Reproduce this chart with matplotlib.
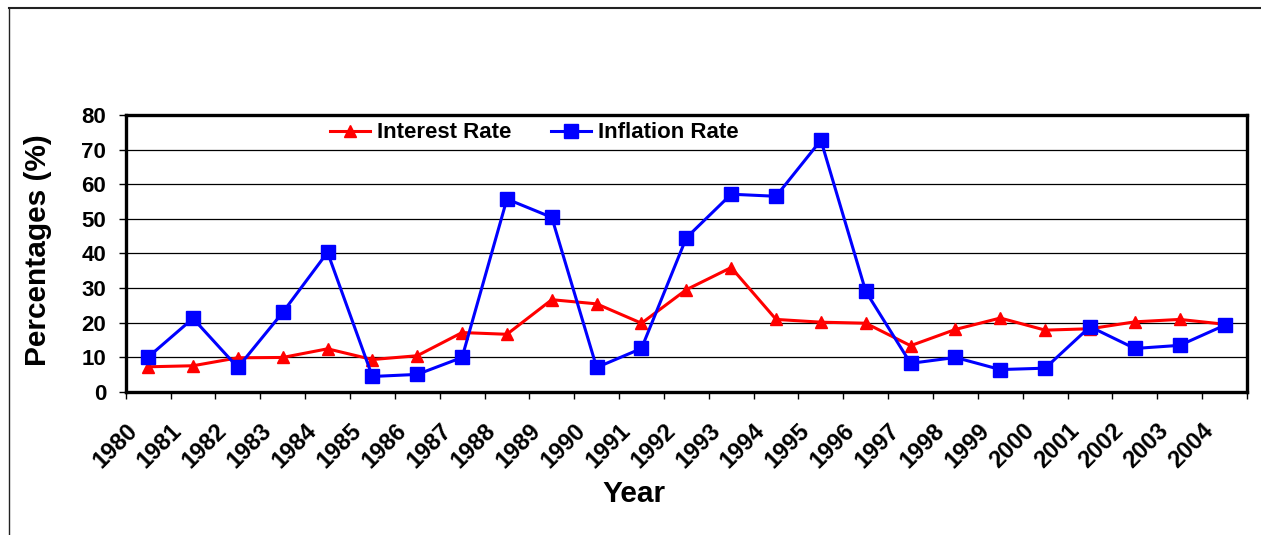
import matplotlib
matplotlib.use("Agg")
import matplotlib.pyplot as plt
import matplotlib.transforms as mtransforms
from matplotlib.lines import Line2D

years = [str(y) for y in range(1980, 2005)]
interest_rate = [7.2, 7.5, 9.8, 9.9, 12.4, 9.3, 10.4, 17.1, 16.6, 26.6, 25.4, 19.8,
                 29.5, 35.9, 20.9, 20.1, 19.8, 13.3, 18.0, 21.3, 17.8, 18.2, 20.2, 20.9, 19.5]
inflation_rate = [10.0, 21.2, 7.0, 22.9, 40.3, 4.4, 5.0, 9.9, 55.7, 50.4, 7.0, 12.5,
                  44.5, 57.1, 56.5, 72.7, 29.0, 8.2, 9.9, 6.4, 6.8, 18.8, 12.5, 13.4, 19.2]
series_names = ["Interest Rate", "Inflation Rate"]
y_ticks = [0, 10, 20, 30, 40, 50, 60, 70, 80]

W, H = 1261, 535
fig = plt.figure(figsize=(W / 100, H / 100), dpi=100)
plt.rcParams['font.family'] = ['Liberation Sans', 'DejaVu Sans']

ax = fig.add_axes([125.7 / W, 1 - 391.7 / H, (1247 - 125.7) / W, (391.7 - 115) / H])

x = list(range(len(years)))
ax.plot(x, interest_rate, color='#FF0000', lw=2.2, marker='^', markersize=8,
        label=series_names[0], zorder=3)
ax.plot(x, inflation_rate, color='#0000FF', lw=2.2, marker='s', markersize=9.5,
        label=series_names[1], zorder=4)

ax.set_xlim(-0.5, len(years) - 0.5)
ax.set_ylim(0, 80)
ax.set_yticks(y_ticks)
ax.set_yticklabels([str(v) for v in y_ticks], fontsize=16, fontweight='bold')
ax.yaxis.grid(True, color='black', lw=0.9)
ax.set_axisbelow(True)

ax.set_xticks([i - 0.5 for i in x] + [len(years) - 0.5])
ax.set_xticklabels([])

# category labels: rotated, anchored near the boundary tick like the original
base = mtransforms.blended_transform_factory(ax.transData, ax.transAxes)
offset = mtransforms.ScaledTranslation(16 / 100, -27 / 100, fig.dpi_scale_trans)
for i, yr in enumerate(years):
    ax.text(i - 0.5, 0, yr, transform=base + offset, rotation=45, ha='right', va='top',
            fontsize=17, fontweight='bold', clip_on=False)

ax.tick_params(axis='x', direction='out', length=5, width=1, colors='black')
ax.tick_params(axis='y', direction='out', length=5, width=1, pad=9, colors='black')
for s in ax.spines.values():
    s.set_linewidth(2.4)
    s.set_color('black')

leg = fig.legend(loc='center left', bbox_to_anchor=(330 / W, 1 - 133 / H),
                 ncol=2, frameon=False, prop={'size': 16, 'weight': 'bold'},
                 handlelength=1.8, handletextpad=0.3, columnspacing=1.8,
                 borderpad=0, borderaxespad=0)

fig.text(38 / W, 1 - 250 / H, 'Percentages (%)', rotation=90, ha='center', va='center',
         fontsize=21.5, fontweight='bold')
fig.text(634 / W, 1 - 494 / H, 'Year', ha='center', va='center',
         fontsize=21.5, fontweight='bold')

# outer chart frame (left and top edges visible)
fig.add_artist(Line2D([9 / W, 9 / W], [0, 1 - 8 / H], transform=fig.transFigure,
                      color='#222222', lw=1.0))
fig.add_artist(Line2D([9 / W, 1], [1 - 8 / H, 1 - 8 / H], transform=fig.transFigure,
                      color='#222222', lw=1.5))

fig.savefig('out.png', dpi=100)
